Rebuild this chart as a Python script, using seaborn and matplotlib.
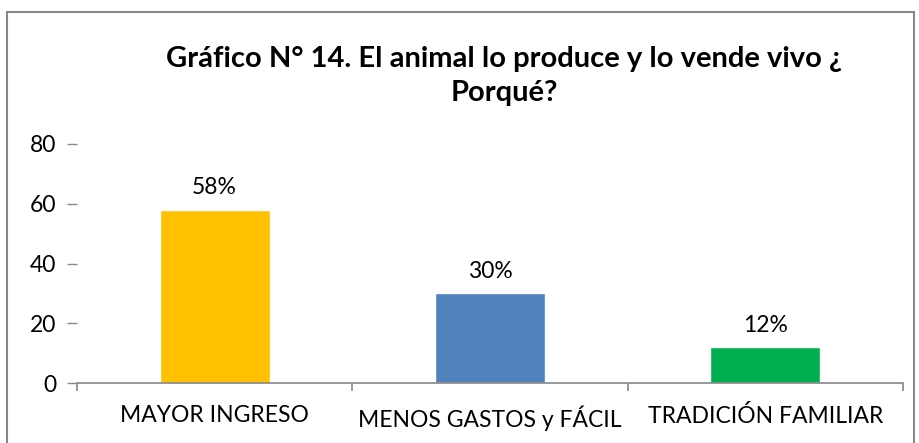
import matplotlib
matplotlib.use("Agg")
import matplotlib.pyplot as plt
import seaborn as sns
import pandas as pd
from matplotlib.patches import Rectangle

categories = ["MAYOR INGRESO", "MENOS GASTOS y FÁCIL", "TRADICIÓN FAMILIAR"]
values = [58, 30, 12]
labels = ["58%", "30%", "12%"]
colors = ["#FFC000", "#4F81BD", "#00B050"]
yticks = [0, 20, 40, 60, 80]
title = "Gráfico N° 14. El animal lo produce y lo vende vivo ¿\nPorqué?"

sns.set_theme(style="white")
plt.rcParams['font.family'] = ['Lato', 'DejaVu Sans']

df = pd.DataFrame({"cat": categories, "val": values})

fig = plt.figure(figsize=(9.2, 4.43), dpi=100)
ax = fig.add_axes([77/920, 1-383/443, (903-77)/920, (383-144)/443])
sns.barplot(data=df, x="cat", y="val", hue="cat", palette=colors, legend=False,
            width=0.4, saturation=1, ax=ax)
ax.set_xlim(-0.5, 2.5)
ax.set_ylim(0, 80)
ax.set_yticks(yticks)
ax.set_xlabel("")
ax.set_ylabel("")
for s in ["top", "right", "left"]:
    ax.spines[s].set_visible(False)
ax.spines["bottom"].set_color("#888888")
ax.spines["bottom"].set_linewidth(1.2)
ax.tick_params(axis="y", left=True, length=7, color="#888888", width=1,
               labelsize=16.5, pad=8, labelcolor="black")
ax.tick_params(axis="x", which="major", length=0, labelsize=16.5, pad=16, labelcolor="black")
ax.set_xticks([-0.5, 0.5, 1.5, 2.5], minor=True)
ax.tick_params(axis="x", which="minor", bottom=True, length=6, color="#888888", width=1.2)
for i, (v, l) in enumerate(zip(values, labels)):
    ax.text(i, v + 3.8, l, ha="center", va="bottom", fontsize=16.5, color="black")

fig.text(504/920, 1-76/443, title, ha="center", va="center", fontsize=21,
         fontweight="bold", linespacing=1.4, color="black")
fig.patches.append(Rectangle((7/920, -0.05), (914-7)/920, 1-12/443+0.05,
                             transform=fig.transFigure, fill=False,
                             edgecolor="#888888", linewidth=1.5))
fig.savefig("out.png", dpi=100)
